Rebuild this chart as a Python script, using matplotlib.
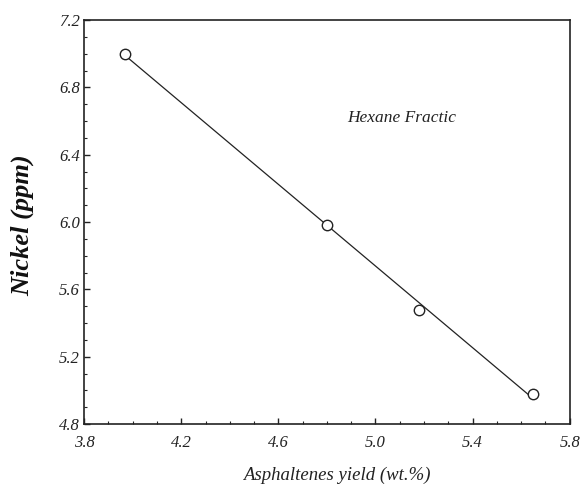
import numpy as np
import matplotlib
matplotlib.use("Agg")
import matplotlib.pyplot as plt
from matplotlib.ticker import MultipleLocator, FormatStrFormatter

# Asphaltenes yield vs nickel content, hexane fraction
asphaltene_yield = [3.97, 4.80, 5.18, 5.65]
nickel_ppm = [7.00, 5.98, 5.48, 4.98]

xticks = [3.8, 4.2, 4.6, 5.0, 5.4, 5.8]
yticks = [4.8, 5.2, 5.6, 6.0, 6.4, 6.8, 7.2]

serif = ["Liberation Serif", "DejaVu Serif"]

fig = plt.figure(figsize=(5.88, 4.88), dpi=100)
ax = fig.add_axes([0.143, 0.131, 0.826, 0.828])

# least-squares line across the data range
slope, intercept = np.polyfit(asphaltene_yield, nickel_ppm, 1)
xfit = np.array([min(asphaltene_yield), max(asphaltene_yield)])
ax.plot(xfit, slope * xfit + intercept, color="#222222", lw=0.9, zorder=2)
ax.plot(asphaltene_yield, nickel_ppm, linestyle="none", marker="o",
        markersize=7.5, markerfacecolor="white", markeredgecolor="#222222",
        markeredgewidth=1.0, zorder=3)

ax.set_xlim(3.8, 5.8)
ax.set_ylim(4.8, 7.2)
ax.set_xticks(xticks)
ax.set_yticks(yticks)
ax.xaxis.set_major_formatter(FormatStrFormatter("%.1f"))
ax.yaxis.set_major_formatter(FormatStrFormatter("%.1f"))
ax.xaxis.set_minor_locator(MultipleLocator(0.1))
ax.yaxis.set_minor_locator(MultipleLocator(0.1))
ax.tick_params(which="both", direction="in", top=False, right=False,
               colors="#222222")
ax.tick_params(which="major", length=4, width=1.0)
ax.tick_params(which="minor", length=2, width=0.8)
ax.tick_params(axis="x", which="major", pad=8)
ax.tick_params(axis="y", which="major", pad=3)
for lab in ax.get_xticklabels() + ax.get_yticklabels():
    lab.set_family(serif)
    lab.set_style("italic")
    lab.set_fontsize(12)
for sp in ax.spines.values():
    sp.set_linewidth(1.2)
    sp.set_color("#222222")

ax.set_xlabel("Asphaltenes yield (wt.%)", family=serif, style="italic",
              fontsize=13.5, color="#222222")
ax.xaxis.set_label_coords(0.52, -0.105)
ax.set_ylabel("Nickel (ppm)", family=serif, style="italic", weight="bold",
              fontsize=19, color="#111111")
ax.yaxis.set_label_coords(-0.103, 0.493)

ax.text(4.885, 6.62, "Hexane Fractic", family=serif, style="italic",
        fontsize=12.5, color="#222222", va="center", ha="left")

fig.savefig("out.png", dpi=100)
